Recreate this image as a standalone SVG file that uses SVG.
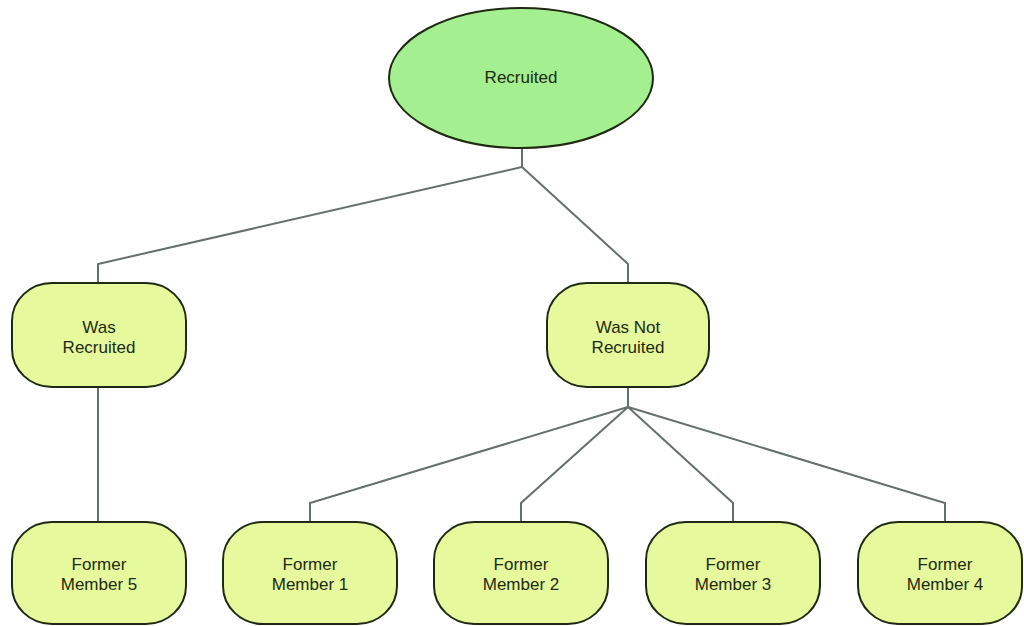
<svg xmlns="http://www.w3.org/2000/svg" width="1024" height="626" viewBox="0 0 1024 626">
<style>
.box{fill:#e6f99c;stroke:#1e2a12;stroke-width:2}
.ell{fill:#a4ef90;stroke:#1e2a12;stroke-width:2}
.t{font-family:"Liberation Sans",Arial,sans-serif;font-size:17px;fill:#1c2a12;text-anchor:middle}
.c{fill:none;stroke:#66706a;stroke-width:2}
</style>
<rect width="1024" height="626" fill="#ffffff"/>
<g id="connectors">
<path class="c" d="M522 148 V167 L98 264 V283"/>
<path class="c" d="M522 167 L628 264 V283"/>
<path class="c" d="M98 387 V522"/>
<path class="c" d="M628 387 V407 L310 503 V522"/>
<path class="c" d="M628 407 L521 503 V522"/>
<path class="c" d="M628 407 L733 503 V522"/>
<path class="c" d="M628 407 L945 503 V522"/>
</g>
<g id="recruited">
<ellipse class="ell" cx="521" cy="78" rx="132" ry="70"/>
<text class="t" x="521" y="83">Recruited</text>
</g>
<g id="was-recruited">
<rect class="box" x="12" y="283" width="174" height="104" rx="40" ry="38"/>
<text class="t" x="99" y="333">Was</text>
<text class="t" x="99" y="353">Recruited</text>
</g>
<g id="was-not-recruited">
<rect class="box" x="547" y="283" width="162" height="104" rx="40" ry="38"/>
<text class="t" x="628" y="333">Was Not</text>
<text class="t" x="628" y="353">Recruited</text>
</g>
<g id="fm5">
<rect class="box" x="12" y="522" width="174" height="102" rx="40" ry="38"/>
<text class="t" x="99" y="570">Former</text>
<text class="t" x="99" y="590">Member 5</text>
</g>
<g id="fm1">
<rect class="box" x="223" y="522" width="174" height="102" rx="40" ry="38"/>
<text class="t" x="310" y="570">Former</text>
<text class="t" x="310" y="590">Member 1</text>
</g>
<g id="fm2">
<rect class="box" x="434" y="522" width="174" height="102" rx="40" ry="38"/>
<text class="t" x="521" y="570">Former</text>
<text class="t" x="521" y="590">Member 2</text>
</g>
<g id="fm3">
<rect class="box" x="646" y="522" width="174" height="102" rx="40" ry="38"/>
<text class="t" x="733" y="570">Former</text>
<text class="t" x="733" y="590">Member 3</text>
</g>
<g id="fm4">
<rect class="box" x="858" y="522" width="164" height="102" rx="40" ry="38"/>
<text class="t" x="945" y="570">Former</text>
<text class="t" x="945" y="590">Member 4</text>
</g>
</svg>
